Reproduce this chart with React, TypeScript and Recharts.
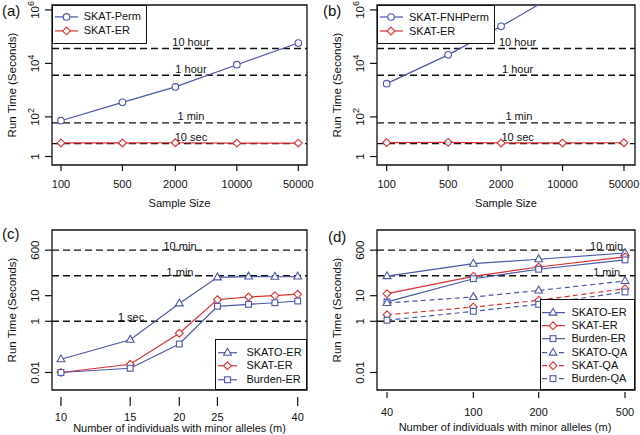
import React from 'react';
import { LineChart, Line, XAxis, YAxis, ReferenceLine, ReferenceArea, Legend } from 'recharts';

// ---------- data ----------
const sampleSizes = [100, 500, 2000, 10000, 50000];
const skatPermTimes = [72, 350, 1320, 8950, 57700];
const skatErTimesA = [10.6, 10.6, 10.8, 10.4, 10.5];
const fnhPermTimes = [1750, 20900, 243000, 5200000, 80000000];
const skatErTimesB = [11, 11.2, 10.6, 10.6, 10.8];

const mSmall = [10, 15, 20, 25, 30, 35, 40];
const skatoErC = [0.033, 0.19, 5.0, 52, 56, 55, 56];
const skatErC = [0.01, 0.021, 0.34, 7, 8.9, 10, 11.5];
const burdenErC = [0.01, 0.0146, 0.13, 3.85, 4.6, 5.3, 6.2];

const mLarge = [40, 100, 200, 500];
const skatoErD = [58, 178, 265, 465];
const skatErD = [12, 57, 132, 326];
const burdenErD = [5.7, 46, 108, 250];
const skatoQaD = [5.2, 8.9, 16, 37.5];
const skatQaD = [1.8, 3.6, 6.6, 18.8];
const burdenQaD = [1.1, 2.45, 4.6, 14];

const yTicksTop = [3.3, 100, 10000, 1000000];
const yTickLabelsTop: [string, string][] = [['1', ''], ['10', '2'], ['10', '4'], ['10', '6']];
const yTicksBottom = [0.01, 1, 10, 600];
const yTickLabelsBottom: [string, string][] = [['0.01', ''], ['1', ''], ['10', ''], ['600', '']];

const refTopValues = [36000, 3600, 60, 10];
const refTopLabels = ['10 hour', '1 hour', '1 min', '10 sec'];
const refBottomValues = [600, 60, 1];
const refBottomLabelsC = ['10 min', '1 min', '1 sec'];
const refBottomLabelsD = ['10 min', '1 min', ''];

// ---------- tables ----------
const tableA = sampleSizes.map((x, i) => ({ x, perm: skatPermTimes[i], er: skatErTimesA[i] }));
const tableB = sampleSizes.map((x, i) => ({ x, perm: fnhPermTimes[i], er: skatErTimesB[i] }));
const tableC = mSmall.map((x, i) => ({ x, skato: skatoErC[i], skat: skatErC[i], burden: burdenErC[i] }));
const tableD = mLarge.map((x, i) => ({
  x,
  skato: skatoErD[i], skat: skatErD[i], burden: burdenErD[i],
  skatoQa: skatoQaD[i], skatQa: skatQaD[i], burdenQa: burdenQaD[i],
}));

// ---------- styles ----------
const FONT = '"Liberation Sans", Arial, Helvetica, sans-serif';
const BLUE = '#4b57a8';
const RED = '#d8312e';

type Shape = 'circle' | 'diamond' | 'triangle' | 'square';
interface Series { key: string; name: string; color: string; shape: Shape; dash?: string; }

function Marker({ shape, cx, cy, color }: { shape: Shape; cx: number; cy: number; color: string }) {
  if (cx == null || cy == null || !isFinite(cx) || !isFinite(cy)) return null;
  const common = { fill: '#fff', stroke: color, strokeWidth: 1.1 };
  if (shape === 'circle') return <circle cx={cx} cy={cy} r={3.3} {...common} />;
  if (shape === 'diamond') {
    const d = 3.9;
    return <polygon points={`${cx},${cy - d} ${cx + d},${cy} ${cx},${cy + d} ${cx - d},${cy}`} {...common} />;
  }
  if (shape === 'triangle') {
    return <polygon points={`${cx},${cy - 4.4} ${cx + 3.9},${cy + 2.5} ${cx - 3.9},${cy + 2.5}`} {...common} />;
  }
  const s = 2.9;
  return <rect x={cx - s} y={cy - s} width={2 * s} height={2 * s} {...common} />;
}

function RefLabel(props: any) {
  const { viewBox, text, frac, dy } = props;
  if (!viewBox || !text) return null;
  const x = viewBox.x + viewBox.width * frac;
  const y = viewBox.y + dy;
  return (
    <text x={x} y={y} textAnchor="middle" fontSize={11} fontFamily={FONT} fill="#111">{text}</text>
  );
}

interface LegendLayout {
  left: number; top: number; w: number; h: number; padTop: number; rowH: number;
  lineX1: number; lineX2: number; markX: number; textX: number;
}

function LegendBox({ items, lay }: { items: Series[]; lay: LegendLayout }) {
  return (
    <div style={{
      width: lay.w, height: lay.h, boxSizing: 'border-box', border: '1.3px solid #111',
      background: '#fff', position: 'relative', fontFamily: FONT, fontSize: 11, color: '#111',
    }}>
      {items.map((it, i) => (
        <div key={it.key} style={{ position: 'absolute', left: 0, top: lay.padTop + i * lay.rowH - 1.3, width: '100%', height: lay.rowH }}>
          <svg width={lay.textX} height={lay.rowH} style={{ position: 'absolute', left: -1.3, top: 0 }}>
            <line x1={lay.lineX1} x2={lay.lineX2} y1={lay.rowH / 2} y2={lay.rowH / 2} stroke={it.color}
              strokeWidth={1.2} strokeDasharray={it.dash} />
            <Marker shape={it.shape} cx={lay.markX} cy={lay.rowH / 2} color={it.color} />
          </svg>
          <span style={{ position: 'absolute', left: lay.textX - 1.3, top: 0, lineHeight: `${lay.rowH}px`, whiteSpace: 'nowrap' }}>{it.name}</span>
        </div>
      ))}
    </div>
  );
}

interface PanelProps {
  left: number; top: number; width: number; height: number;
  plotLeft: number; plotRight: number; plotTop: number; plotBottom: number;
  data: any[];
  xDomain: [number, number]; xTicks: number[];
  yDomain: [number, number]; yTicks: number[]; yTickLabels: [string, string][];
  refValues: number[]; refLabels: string[]; refFracs: number[]; refDy: number;
  series: Series[];
  legend: LegendLayout;
  xTickGap: number; xTickLen: number; xLabelBase: number;
}

function Panel(p: PanelProps) {
  const XTick = (t: any) => {
    const { x, y, payload } = t;
    return (
      <g>
        <line x1={x} x2={x} y1={y + p.xTickGap} y2={y + p.xTickGap + p.xTickLen} stroke="#111" strokeWidth={1.2} />
        <text x={x} y={y + p.xLabelBase} textAnchor="middle" fontSize={11} fontFamily={FONT} fill="#111">{String(payload.value)}</text>
      </g>
    );
  };
  const YTick = (t: any) => {
    const { x, y, payload } = t;
    const idx = p.yTicks.indexOf(payload.value);
    const lab = idx >= 0 ? p.yTickLabels[idx] : [String(payload.value), ''];
    return (
      <g>
        <line x1={x} x2={x - 7} y1={y} y2={y} stroke="#111" strokeWidth={1.2} />
        <text transform={`translate(${x - 13},${y}) rotate(-90)`} textAnchor="middle" fontSize={11.5} fontFamily={FONT} fill="#111">
          {lab[0]}
          {lab[1] ? <tspan dy={-5} fontSize={9}>{lab[1]}</tspan> : null}
        </text>
      </g>
    );
  };
  return (
    <div style={{ position: 'absolute', left: p.left, top: p.top, width: p.width, height: p.height }}>
      <LineChart width={p.width} height={p.height} data={p.data}
        margin={{ top: p.plotTop, right: p.width - p.plotRight, left: 0, bottom: 0 }}>
        <XAxis dataKey="x" type="number" scale="log" domain={p.xDomain} allowDataOverflow ticks={p.xTicks}
          interval={0} height={p.height - p.plotBottom} axisLine={false} tickLine={false} tickSize={0} tickMargin={0}
          tick={XTick} />
        <YAxis type="number" scale="log" domain={p.yDomain} allowDataOverflow ticks={p.yTicks}
          interval={0} width={p.plotLeft} axisLine={false} tickLine={false} tickSize={0} tickMargin={0}
          tick={YTick} />
        {p.refValues.map((v, i) => (
          <ReferenceLine key={`r${i}`} y={v} stroke="#111" strokeWidth={1.4} strokeDasharray="7 4"
            label={<RefLabel text={p.refLabels[i]} frac={p.refFracs[i]} dy={p.refDy} />} />
        ))}
        {p.series.map((s) => (
          <Line key={s.key} dataKey={s.key} name={s.name} stroke={s.color} strokeWidth={1.2}
            strokeDasharray={s.dash} isAnimationActive={false} activeDot={false}
            dot={(d: any) => <Marker key={`${s.key}-${d.index}`} shape={s.shape} cx={d.cx} cy={d.cy} color={s.color} />} />
        ))}
        <ReferenceArea x1={p.xDomain[0]} x2={p.xDomain[1]} y1={p.yDomain[0]} y2={p.yDomain[1]}
          fill="none" stroke="#111" strokeWidth={1.3} ifOverflow="visible" />
        <Legend layout="vertical" align="center" verticalAlign="middle"
          wrapperStyle={{ left: p.legend.left, top: p.legend.top, width: p.legend.w, height: p.legend.h }}
          content={() => <LegendBox items={p.series} lay={p.legend} />} />
      </LineChart>
    </div>
  );
}

const seriesA: Series[] = [
  { key: 'perm', name: 'SKAT-Perm', color: BLUE, shape: 'circle' },
  { key: 'er', name: 'SKAT-ER', color: RED, shape: 'diamond' },
];
const seriesB: Series[] = [
  { key: 'perm', name: 'SKAT-FNHPerm', color: BLUE, shape: 'circle' },
  { key: 'er', name: 'SKAT-ER', color: RED, shape: 'diamond' },
];
const seriesC: Series[] = [
  { key: 'skato', name: 'SKATO-ER', color: BLUE, shape: 'triangle' },
  { key: 'skat', name: 'SKAT-ER', color: RED, shape: 'diamond' },
  { key: 'burden', name: 'Burden-ER', color: BLUE, shape: 'square' },
];
const seriesD: Series[] = [
  { key: 'skato', name: 'SKATO-ER', color: BLUE, shape: 'triangle' },
  { key: 'skat', name: 'SKAT-ER', color: RED, shape: 'diamond' },
  { key: 'burden', name: 'Burden-ER', color: BLUE, shape: 'square' },
  { key: 'skatoQa', name: 'SKATO-QA', color: BLUE, shape: 'triangle', dash: '5 3.5' },
  { key: 'skatQa', name: 'SKAT-QA', color: RED, shape: 'diamond', dash: '5 3.5' },
  { key: 'burdenQa', name: 'Burden-QA', color: BLUE, shape: 'square', dash: '5 3.5' },
];

function Title({ x, y, text, size = 11, rotate = false }: { x: number; y: number; text: string; size?: number; rotate?: boolean }) {
  return (
    <div style={{
      position: 'absolute', left: x, top: y, whiteSpace: 'nowrap', fontFamily: FONT, fontSize: size,
      lineHeight: 1, color: '#111',
      transform: `translate(-50%,-50%)${rotate ? ' rotate(-90deg)' : ''}`,
    }}>{text}</div>
  );
}

export default function App() {
  return (
    <div style={{ position: 'absolute', left: 0, top: 0, width: 640, height: 435, background: '#fff', overflow: 'hidden' }}>
      <Panel left={0} top={0} width={320} height={217}
        plotLeft={52} plotRight={307} plotTop={5} plotBottom={165}
        data={tableA} xDomain={[79.1, 62800]} xTicks={sampleSizes}
        yDomain={[1.59, 1527000]} yTicks={yTicksTop} yTickLabels={yTickLabelsTop}
        refValues={refTopValues} refLabels={refTopLabels} refFracs={[0.545, 0.545, 0.545, 0.545]} refDy={-2.5}
        series={seriesA}
        legend={{ left: 52, top: 5, w: 95, h: 38.5, padTop: 5.5, rowH: 13.8, lineX1: 3, lineX2: 26, markX: 14.5, textX: 32 }}
        xTickGap={0} xTickLen={6} xLabelBase={23} />
      <Panel left={320} top={0} width={320} height={217}
        plotLeft={57} plotRight={315} plotTop={5} plotBottom={165}
        data={tableB} xDomain={[77.6, 66700]} xTicks={sampleSizes}
        yDomain={[1.59, 1527000]} yTicks={yTicksTop} yTickLabels={yTickLabelsTop}
        refValues={refTopValues} refLabels={refTopLabels} refFracs={[0.545, 0.545, 0.55, 0.545]} refDy={-2.5}
        series={seriesB}
        legend={{ left: 57, top: 5, w: 118, h: 38.5, padTop: 5.3, rowH: 14, lineX1: 3, lineX2: 26, markX: 14, textX: 32.3 }}
        xTickGap={0} xTickLen={6} xLabelBase={23} />
      <Panel left={0} top={217} width={320} height={218}
        plotLeft={52} plotRight={307} plotTop={13} plotBottom={173}
        data={tableC} xDomain={[9.49, 42.24]} xTicks={[10, 15, 20, 25, 40]}
        yDomain={[0.00207, 3683]} yTicks={yTicksBottom} yTickLabels={yTickLabelsBottom}
        refValues={refBottomValues} refLabels={refBottomLabelsC} refFracs={[0.502, 0.502, 0.31]} refDy={0}
        series={seriesC}
        legend={{ left: 215, top: 121.7, w: 92, h: 51.6, padTop: 7.3, rowH: 13.5, lineX1: 3, lineX2: 22, markX: 12.5, textX: 31.7 }}
        xTickGap={7} xTickLen={9} xLabelBase={31} />
      <Panel left={320} top={217} width={320} height={218}
        plotLeft={57} plotRight={315} plotTop={13} plotBottom={173}
        data={tableD} xDomain={[35.97, 555.9]} xTicks={mLarge}
        yDomain={[0.00207, 3683]} yTicks={yTicksBottom} yTickLabels={yTickLabelsBottom}
        refValues={refBottomValues} refLabels={refBottomLabelsD} refFracs={[0.89, 0.89, 0.89]} refDy={0}
        series={seriesD}
        legend={{ left: 220, top: 81.7, w: 95, h: 91.6, padTop: 7.3, rowH: 13.3, lineX1: 2, lineX2: 25, markX: 13, textX: 31.7 }}
        xTickGap={2} xTickLen={6} xLabelBase={25.5} />

      <Title x={179.5} y={203.3} text="Sample Size" />
      <Title x={506} y={203.3} text="Sample Size" />
      <Title x={179.5} y={428} text="Number of individuals with minor alleles (m)" />
      <Title x={505} y={427} text="Number of individuals with minor alleles (m)" />
      <Title x={13.3} y={85} text="Run Time (Seconds)" size={11.5} rotate />
      <Title x={338.3} y={85} text="Run Time (Seconds)" size={11.5} rotate />
      <Title x={13.3} y={310} text="Run Time (Seconds)" size={11.5} rotate />
      <Title x={338.3} y={310} text="Run Time (Seconds)" size={11.5} rotate />

      <div style={{ position: 'absolute', left: 2, top: 3, fontFamily: FONT, fontSize: 15, lineHeight: 1, color: '#111' }}>(a)</div>
      <div style={{ position: 'absolute', left: 323, top: 3, fontFamily: FONT, fontSize: 15, lineHeight: 1, color: '#111' }}>(b)</div>
      <div style={{ position: 'absolute', left: 2, top: 226, fontFamily: FONT, fontSize: 15, lineHeight: 1, color: '#111' }}>(c)</div>
      <div style={{ position: 'absolute', left: 328, top: 229, fontFamily: FONT, fontSize: 15, lineHeight: 1, color: '#111' }}>(d)</div>
    </div>
  );
}
